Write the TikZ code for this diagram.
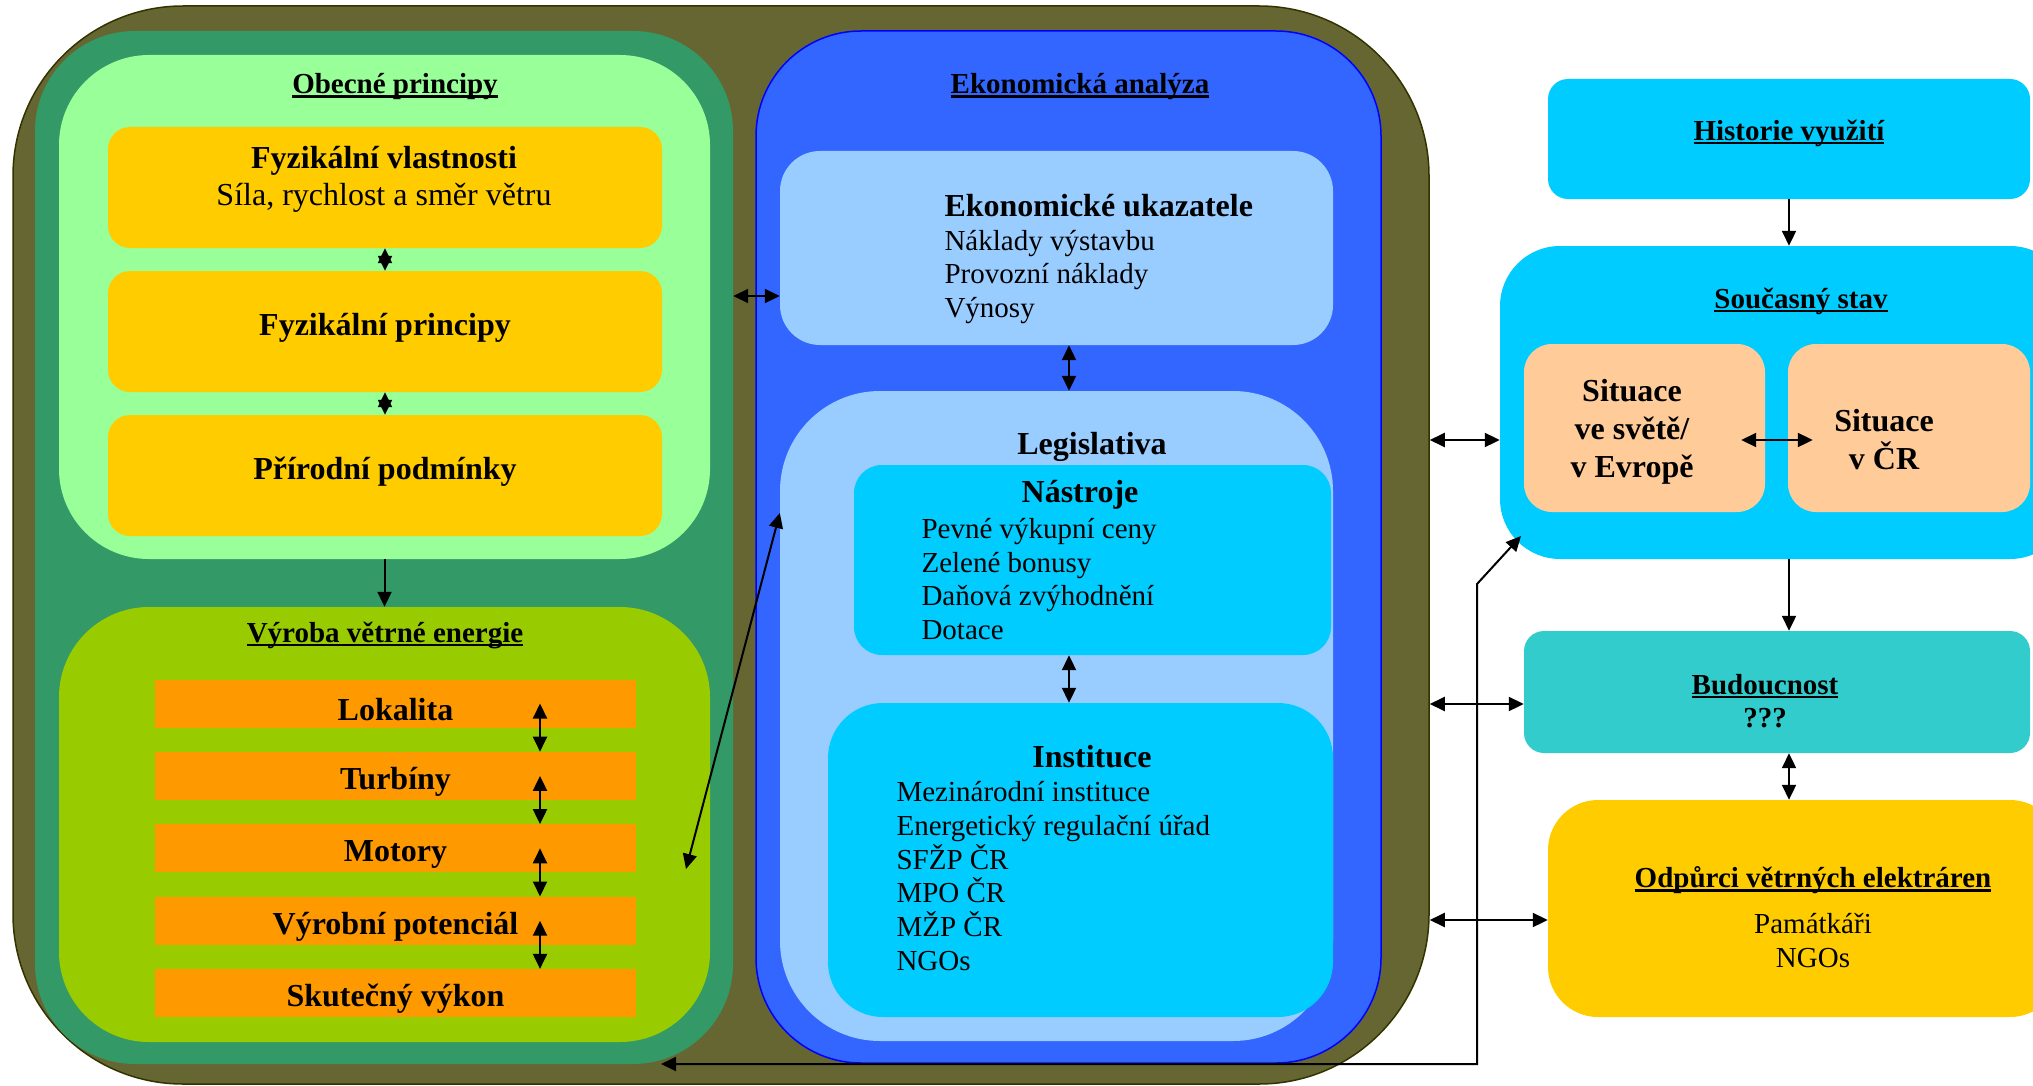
\documentclass[tikz,border=0pt]{standalone}
\usepackage{fontspec}
\setmainfont{Liberation Serif}
\usepackage{xcolor}
\usetikzlibrary{arrows.meta,positioning,calc}
\definecolor{olivebg}{HTML}{666633}
\definecolor{olivedark}{HTML}{333300}
\definecolor{seagreen}{HTML}{339966}
\definecolor{mintgreen}{HTML}{99FF99}
\definecolor{limegreen}{HTML}{99CC00}
\definecolor{gold}{HTML}{FFCC00}
\definecolor{orangebar}{HTML}{FF9900}
\definecolor{royalblue}{HTML}{3366FF}
\definecolor{paleblue}{HTML}{99CCFF}
\definecolor{skycyan}{HTML}{00CCFF}
\definecolor{peach}{HTML}{FFCC99}
\definecolor{tealbox}{HTML}{33CCCC}
\newcommand{\headfont}{\fontsize{32}{37}\selectfont\bfseries}
\newcommand{\bodyfont}{\fontsize{29}{33.7}\selectfont}
\newcommand{\sitfont}{\fontsize{32}{38}\selectfont\bfseries}
\newcommand{\boxtitle}[1]{{\bfseries\setbox0=\hbox{#1}\rlap{\rule[-4pt]{\wd0}{2.5pt}}\box0}}
\newcommand{\nudge}[2]{\raisebox{#1}[\height][\depth]{#2}}

\begin{document}
\begin{tikzpicture}[x=1pt, y=-1pt,
    panel/.style={rounded corners=#1, inner sep=0pt, align=center},
    panel/.default=20pt,
    arrow/.style={->, line width=2pt},
    dblarrow/.style={<->, line width=2pt},
    >={Triangle[length=15pt,width=14pt]}
]
    \useasboundingbox (0,0) rectangle (2033,1086);

    % Outer frame
    \node[panel=170pt, fill=olivebg, draw=olivedark, line width=1.5pt, minimum width=1416pt, minimum height=1078pt] (outer) at (721,545) {};

    % Left column
    \node[panel=100pt, fill=seagreen, minimum width=698pt, minimum height=1033pt] (leftcol) at (384,547.5) {};
    \node[panel=90pt, fill=mintgreen, minimum width=651pt, minimum height=504pt] (obecne) at (384.5,307) {};
    \node[font=\bodyfont] (obecneT) at (395,87) {\boxtitle{Obecné principy}};
    \node[panel=22pt, fill=gold, minimum width=554pt, minimum height=121pt] (fyz1) at (385,187.5) {};
    \node[font=\headfont, align=center] (fyz1T) at (384,179) {Fyzikální vlastnosti\\ \mdseries Síla, rychlost a směr větru};
    \node[panel=22pt, fill=gold, minimum width=554pt, minimum height=121pt, font=\headfont] (fyz2) at (385,331.5) {\nudge{4pt}{Fyzikální principy}};
    \node[panel=22pt, fill=gold, minimum width=554pt, minimum height=121pt, font=\headfont] (fyz3) at (385,475.5) {\nudge{4pt}{Přírodní podmínky}};

    % Vyroba
    \node[panel=90pt, fill=limegreen, minimum width=651pt, minimum height=435pt] (vyroba) at (384.5,824.5) {};
    \node[font=\bodyfont] (vyrobaT) at (385,635) {\boxtitle{Výroba větrné energie}};
    \foreach \txt [count=\i] in {Lokalita, Turbíny, Motory, Výrobní potenciál, Skutečný výkon}
        \node[fill=orangebar, minimum width=481pt, minimum height=48pt, inner sep=0pt, font=\headfont] (bar\i) at (395.5,{703.5+72.4*(\i-1)}) {\nudge{-6pt}{\txt}};

    % Ekonomicka analyza
    \node[panel=105pt, fill=royalblue, draw=blue, line width=1.5pt, minimum width=625pt, minimum height=1032pt] (ekon) at (1068.5,547) {};
    \node[font=\bodyfont] (ekonT) at (1080,87) {\boxtitle{Ekonomická analýza}};
    \node[panel=40pt, fill=paleblue, minimum width=553pt, minimum height=194pt] (ukaz) at (1056.5,248) {};
    \node[font=\bodyfont, align=left, anchor=west] (ukazT) at (941,259) {{\headfont Ekonomické ukazatele}\\Náklady výstavbu\\Provozní náklady\\Výnosy};
    \node[panel=100pt, fill=paleblue, minimum width=553pt, minimum height=650pt] (legis) at (1056.5,716) {};
    \node[font=\headfont] (legisT) at (1092,447) {Legislativa};
    \node[panel=28pt, fill=skycyan, minimum width=477pt, minimum height=190pt] (nastroje) at (1092.5,560) {};
    \node[font=\headfont] (nastrojeT) at (1080,495) {Nástroje};
    \node[font=\bodyfont, align=left, anchor=west] (nastrojeL) at (918,579) {Pevné výkupní ceny\\Zelené bonusy\\Daňová zvýhodnění\\Dotace};
    \node[panel=55pt, fill=skycyan, minimum width=505pt, minimum height=314pt] (instituce) at (1080.5,860) {};
    \node[font=\headfont] (instituceT) at (1092,757) {Instituce};
    \node[font=\bodyfont, align=left, anchor=west] (instituceL) at (893,876) {Mezinárodní instituce\\Energetický regulační úřad\\SFŽP ČR\\MPO ČR\\MŽP ČR\\NGOs};

    % Right side
    \node[panel=20pt, fill=skycyan, minimum width=482pt, minimum height=120pt] (historie) at (1789,139) {};
    \node[font=\bodyfont] (historieT) at (1789,133) {\boxtitle{Historie využití}};
    \node[panel=60pt, fill=skycyan, minimum width=570pt, minimum height=313pt] (soucasny) at (1785,402.5) {};
    \node[font=\bodyfont] (soucasnyT) at (1801,301) {\boxtitle{Současný stav}};
    \node[panel=28pt, fill=peach, minimum width=241pt, minimum height=168pt] (svet) at (1644.5,428) {};
    \node[font=\sitfont, align=center] (svetT) at (1632,432) {Situace\\ve světě/\\v Evropě};
    \node[panel=28pt, fill=peach, minimum width=242pt, minimum height=168pt] (cr) at (1909,428) {};
    \node[font=\sitfont, align=center] (crT) at (1884,440) {Situace\\v ČR};
    \node[panel=20pt, fill=tealbox, minimum width=506pt, minimum height=122pt] (budoucnost) at (1777,692) {};
    \node[font=\bodyfont\bfseries, align=center] (budoucnostT) at (1765,701) {\boxtitle{Budoucnost}\\???};
    \node[panel=50pt, fill=gold, minimum width=512pt, minimum height=217pt] (odpurci) at (1804,908.5) {};
    \node[font=\bodyfont, align=center] (odpurciT) at (1813,917) {\boxtitle{Odpůrci větrných elektráren}\\[12pt]Památkáři\\NGOs};

    % Arrows
    \draw[dblarrow] (fyz1) -- (fyz2);
    \draw[dblarrow] (fyz2) -- (fyz3);
    \draw[arrow] (obecne) -- (vyroba);
    \coordinate (barAxis) at (540,0);
    \foreach \i/\j in {1/2,2/3,3/4,4/5}
        \draw[dblarrow] (bar\i -| barAxis) -- (bar\j.north -| barAxis);

    \coordinate (ukazLevel) at (0,296);
    \draw[dblarrow] (leftcol.east |- ukazLevel) -- (ukaz.west |- ukazLevel);
    \coordinate (ekonAxis) at (1069,0);
    \draw[dblarrow] (ukaz.south -| ekonAxis) -- (legis.north -| ekonAxis);
    \draw[dblarrow] (nastroje.south -| ekonAxis) -- (instituce.north -| ekonAxis);
    \coordinate (vyrobaTip) at (686,869);
    \coordinate (legisLevel) at (0,513);
    \draw[dblarrow] (vyrobaTip) -- (legis.west |- legisLevel);

    \coordinate (rowA) at (0,440);
    \coordinate (rowB) at (0,704);
    \coordinate (rowC) at (0,920);
    \draw[dblarrow] (outer.east |- rowA) -- (soucasny.west |- rowA);
    \draw[dblarrow] (outer.east |- rowB) -- (budoucnost.west |- rowB);
    \draw[dblarrow] (outer.east |- rowC) -- (odpurci.west |- rowC);
    \draw[dblarrow] ($(svet.east |- rowA)+(-24,0)$) -- ($(cr.west |- rowA)+(25,0)$);

    \coordinate (rightAxis) at (1789,0);
    \draw[arrow] (historie) -- (historie.south |- soucasny.north);
    \draw[arrow] (soucasny.south -| rightAxis) -- (budoucnost.north -| rightAxis);
    \draw[dblarrow] (budoucnost.south -| rightAxis) -- (odpurci.north -| rightAxis);

    % Feedback line
    \coordinate (fbStart) at (661,1064);
    \coordinate (fbCorner) at (1477,584);
    \coordinate (fbTip) at (1521,536);
    \draw[dblarrow] (fbStart) -- (fbStart -| fbCorner) -- (fbCorner) -- (fbTip);
\end{tikzpicture}
\end{document}
